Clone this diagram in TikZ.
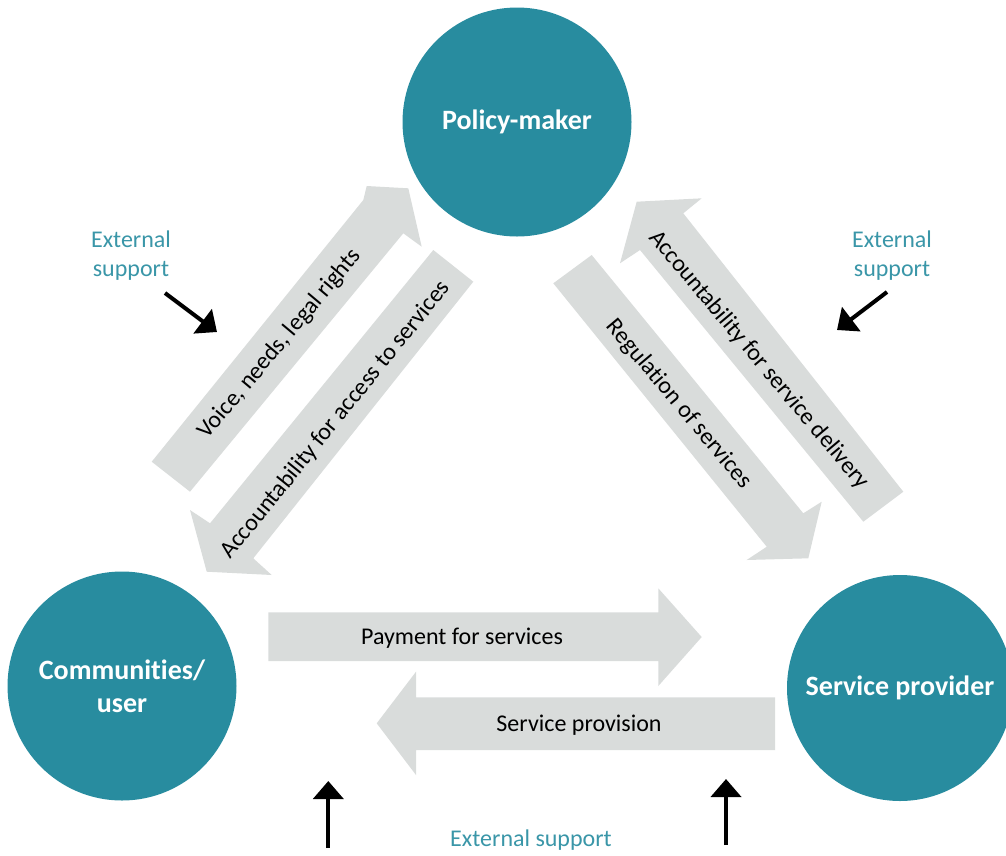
\documentclass[tikz,border=0pt]{standalone}
\usepackage{fontspec}
\setmainfont[Ligatures=NoCommon]{Carlito}
\usetikzlibrary{arrows.meta}
\definecolor{tealc}{HTML}{288C9F}
\definecolor{greyarrow}{HTML}{D9DCDB}
\definecolor{exttext}{HTML}{3A96A8}
\begin{document}
\begin{tikzpicture}[x=1pt,y=-1pt,
  party/.style={circle,fill=tealc,minimum size=229pt,inner sep=0pt,text=white,
    font=\fontsize{28}{33}\selectfont\bfseries,align=center},
  block/.style={fill=greyarrow},
  lbl/.style={font=\fontsize{24}{28}\selectfont,text=black,inner sep=0pt},
  ext/.style={font=\fontsize{24}{29}\selectfont,text=exttext,align=center,inner sep=0pt},
  push/.style={line width=4pt,-{Triangle[width=30pt,length=18pt]}}]
\useasboundingbox (0,0) rectangle (1006,855);
% actors
\node[party] (pm) at (517,122) {Policy-maker};
\node[party] (cu) at (122,686) {Communities/\\user};
\node[party,minimum size=226pt] (sp) at (900,688) {Service provider};
% block arrows
\fill[block] (151.7,461.7) -- (363.3,200) -- (366.7,186) -- (408.3,188.3) -- (421.7,246.7) -- (403.3,233.3) -- (190,491.7) -- cycle;
\fill[block] (433.3,250) -- (473.3,281.7) -- (253.3,558.3) -- (271.7,575) -- (206.7,571.7) -- (190,510) -- (210,523.3) -- cycle;
\fill[block] (863.3,521.7) -- (640,250) -- (620,263.3) -- (636.7,201.7) -- (701.7,198.3) -- (683.3,213.3) -- (903.3,491.7) -- cycle;
\fill[block] (553.3,283.3) -- (591.7,255) -- (803.3,513.3) -- (821.7,501.7) -- (808.3,558.3) -- (746.7,560) -- (766.7,546.7) -- cycle;
\fill[block] (268.3,612.3) -- (658.3,612.3) -- (658.3,588.3) -- (701.7,637) -- (658.3,686) -- (658.3,661) -- (268.3,661) -- cycle;
\fill[block] (775,697.3) -- (416,697.3) -- (416,671.7) -- (376.7,723.3) -- (416,775) -- (416,750) -- (775,750) -- cycle;
% arrow labels
\node[lbl,rotate=50] (voice) at (280,344) {Voice, needs, legal rights};
\node[lbl,rotate=51] (accacc) at (335.7,420) {Accountability for access to services};
\node[lbl,rotate=-50] (accdel) at (759,360) {Accountability for service delivery};
\node[lbl,rotate=-50] (reg) at (679,404) {Regulation of services};
\node[lbl] (pay) at (462,638) {Payment for services};
\node[lbl] (prov) at (579,725) {Service provision};
% external support
\node[ext] (extL) at (131,256) {External\\support};
\node[ext] (extR) at (892,256) {External\\support};
\node[ext] (extB) at (531,840) {External support};
\coordinate (l0) at (165,293);
\coordinate (l1) at (217,332);
\coordinate (r0) at (887,292);
\coordinate (r1) at (837,330);
\coordinate (b0) at (328.3,848);
\coordinate (b1) at (328.3,781);
\coordinate (c0) at (726,845);
\coordinate (c1) at (726,779);
\draw[push] (l0) -- (l1);
\draw[push] (r0) -- (r1);
\draw[push] (b0) -- (b1);
\draw[push] (c0) -- (c1);
\end{tikzpicture}
\end{document}
